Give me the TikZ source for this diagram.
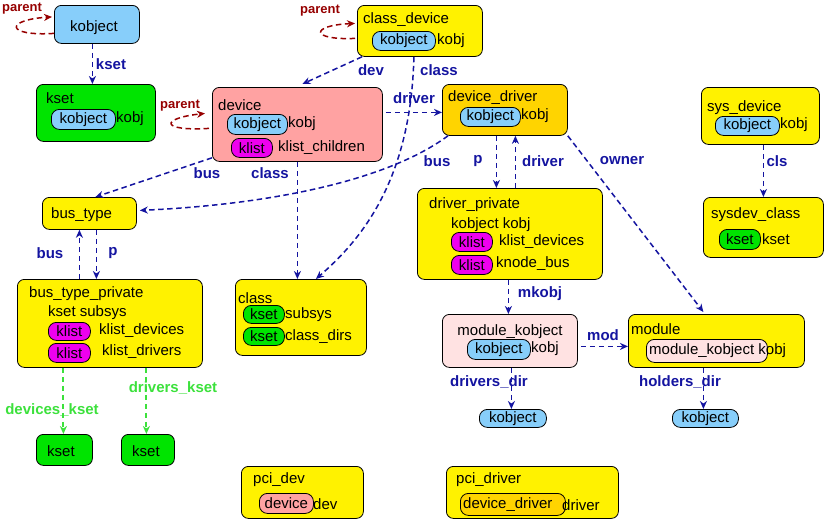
\documentclass[tikz,border=0pt]{standalone}
\usepackage{fontspec}
\setmainfont{Liberation Sans}
\usetikzlibrary{calc,arrows.meta}
\definecolor{objblue}{RGB}{135,206,250}
\definecolor{ksetgreen}{RGB}{0,228,0}
\definecolor{devpink}{RGB}{255,162,162}
\definecolor{drvgold}{RGB}{255,212,0}
\definecolor{modpink}{RGB}{255,226,226}
\definecolor{listmag}{RGB}{238,0,238}
\definecolor{linkblue}{RGB}{20,20,160}
\definecolor{parentred}{RGB}{150,0,0}
\definecolor{ksetlink}{RGB}{60,225,60}

\tikzset{
	box/.style={draw, fill=yellow, rounded corners=7pt, anchor=north west, inner sep=0pt, line width=0.8pt, font=\fontsize{15}{18}\selectfont},
	pill/.style={draw, rounded corners=8pt, anchor=north west, inner sep=0pt, line width=0.8pt, font=\fontsize{15}{18}\selectfont},
	txt/.style={anchor=west, inner sep=0pt, font=\fontsize{15}{18}\selectfont},
	link/.style={draw=linkblue, line width=1.5pt, dash pattern=on 5.5pt off 3.5pt, -{Stealth[length=8pt,width=7pt,inset=2.5pt]}},
	lbl/.style={inner sep=0pt, text=linkblue, font=\bfseries\fontsize{15}{18}\selectfont},
}

\begin{document}
\begin{tikzpicture}[x=1pt, y=-1pt]
		\useasboundingbox (0,0) rectangle (824,520);
		\coordinate (kobjpos)  at (54,   5);
		\coordinate (ksetpos)  at (36,   84);
		\coordinate (devpos)   at (212,  87);
		\coordinate (cdevpos)  at (357,  5);
		\coordinate (ddrvpos)  at (442,  84);
		\coordinate (sdevpos)  at (701,  87);
		\coordinate (sclspos)  at (703,  197);
		\coordinate (buspos)   at (42,   197);
		\coordinate (dprvpos)  at (417,  188);
		\coordinate (bprvpos)  at (17,   279);
		\coordinate (clspos)   at (235,  279);
		\coordinate (mkobpos)  at (442,  314);
		\coordinate (modpos)   at (628,  314);
		\coordinate (pdevpos)  at (241,  466);
		\coordinate (pdrvpos)  at (446,  466);

		% boxes
		\node[box, fill=objblue, minimum width=85pt, minimum height=38pt] (KOB) at (kobjpos) {};
		\node[box, fill=ksetgreen, minimum width=119pt, minimum height=57pt] (KSET) at (ksetpos) {};
		\node[box, fill=devpink, minimum width=170pt, minimum height=74pt] (DEV) at (devpos) {};
		\node[box, minimum width=125pt, minimum height=51pt] (CDEV) at (cdevpos) {};
		\node[box, fill=drvgold, minimum width=125pt, minimum height=51pt] (DDRV) at (ddrvpos) {};
		\node[box, minimum width=118pt, minimum height=57pt] (SDEV) at (sdevpos) {};
		\node[box, minimum width=120pt, minimum height=60pt] (SCLS) at (sclspos) {};
		\node[box, minimum width=94pt, minimum height=32pt] (BUS) at (buspos) {};
		\node[box, minimum width=185pt, minimum height=91pt] (DPRV) at (dprvpos) {};
		\node[box, minimum width=185pt, minimum height=88pt] (BPRV) at (bprvpos) {};
		\node[box, fill=ksetgreen, minimum width=56pt, minimum height=31pt] (KS1) at (36,434) {};
		\node[box, fill=ksetgreen, minimum width=53pt, minimum height=31pt] (KS2) at (121,434) {};
		\node[box, minimum width=131pt, minimum height=76pt] (CLS) at (clspos) {};
		\node[box, fill=modpink, minimum width=135pt, minimum height=53pt] (MKOB) at (mkobpos) {};
		\node[box, minimum width=176pt, minimum height=53pt] (MOD) at (modpos) {};
		\node[box, minimum width=122pt, minimum height=52pt] (PDEV) at (pdevpos) {};
		\node[box, minimum width=172pt, minimum height=52pt] (PDRV) at (pdrvpos) {};
		\node[pill, fill=objblue, minimum width=67pt, minimum height=18pt] (KOB1) at (479,409) {kobject};
		\node[pill, fill=objblue, minimum width=66pt, minimum height=18pt] (KOB2) at (672,409) {kobject};

		% box contents
		\node[txt] (KOBt) at (70,28) {kobject};
		\node[txt] (KS1t) at (47,451) {kset};
		\node[txt] (KS2t) at (132,451) {kset};
		\node[txt] (KSETt) at (46,98) {kset};
		\node[pill, fill=objblue, minimum width=64pt, minimum height=20pt] (KSETk) at (51,109) {kobject};
		\node[txt] (KSETn) at (116,119) {kobj};
		\node[txt] (DEVt) at (218,105) {device};
		\node[pill, fill=objblue, minimum width=60pt, minimum height=20pt] (DEVk) at (227,114) {kobject};
		\node[txt] (DEVn) at (288,124) {kobj};
		\node[pill, fill=listmag, minimum width=41pt, minimum height=19pt] (DEVl) at (231,138) {klist};
		\node[txt] (DEVm) at (278,148) {klist\_children};
		\node[txt] (CDEVt) at (363,20) {class\_device};
		\node[pill, fill=objblue, minimum width=63pt, minimum height=19pt] (CDEVk) at (372,31) {kobject};
		\node[txt] (CDEVn) at (437,41) {kobj};
		\node[txt] (DDRVt) at (448,98) {device\_driver};
		\node[pill, fill=objblue, minimum width=60pt, minimum height=19pt] (DDRVk) at (460,107) {kobject};
		\node[txt] (DDRVn) at (521,116) {kobj};
		\node[txt] (SDEVt) at (707,108) {sys\_device};
		\node[pill, fill=objblue, minimum width=64pt, minimum height=19pt] (SDEVk) at (715,116) {kobject};
		\node[txt] (SDEVn) at (780,125) {kobj};
		\node[txt] (SCLSt) at (711,215) {sysdev\_class};
		\node[pill, fill=ksetgreen, minimum width=41pt, minimum height=20pt] (SCLSk) at (719,229) {kset};
		\node[txt] (SCLSn) at (762,239) {kset};
		\node[txt] (BUSt) at (51,215) {bus\_type};
		\node[txt] (DPRVt) at (429,205) {driver\_private};
		\node[txt] (DPRVk) at (451,225) {kobject kobj};
		\node[pill, fill=listmag, minimum width=41pt, minimum height=19pt] (DPRVl) at (451,232) {klist};
		\node[txt] (DPRVm) at (499,242) {klist\_devices};
		\node[pill, fill=listmag, minimum width=41pt, minimum height=19pt] (DPRVb) at (451,255) {klist};
		\node[txt] (DPRVc) at (496,264) {knode\_bus};
		\node[txt] (BPRVt) at (29,294) {bus\_type\_private};
		\node[txt] (BPRVs) at (48,313) {kset subsys};
		\node[pill, fill=listmag, minimum width=42pt, minimum height=18pt] (BPRVl) at (48,322) {klist};
		\node[txt] (BPRVm) at (99,331) {klist\_devices};
		\node[pill, fill=listmag, minimum width=42pt, minimum height=19pt] (BPRVd) at (48,343) {klist};
		\node[txt] (BPRVe) at (102,352) {klist\_drivers};
		\node[txt] (CLSt) at (238,298) {class};
		\node[pill, fill=ksetgreen, minimum width=41pt, minimum height=18pt] (CLSk) at (243,305) {kset};
		\node[txt] (CLSs) at (285,315) {subsys};
		\node[pill, fill=ksetgreen, minimum width=41pt, minimum height=18pt] (CLSd) at (243,327) {kset};
		\node[txt] (CLSe) at (285,337) {class\_dirs};
		\node[font=\fontsize{15}{18}\selectfont, inner sep=0pt] (MKOBt) at (510,332) {module\_kobject};
		\node[pill, fill=objblue, minimum width=63pt, minimum height=20pt] (MKOBk) at (467,339) {kobject};
		\node[txt] (MKOBn) at (531,349) {kobj};
		\node[txt] (MODt) at (631,329) {module};
		\node[pill, fill=modpink, minimum width=121pt, minimum height=23pt] (MODk) at (646,339) {};
		\node[txt] (MODn) at (649,351) {module\_kobject kobj};
		\node[txt] (PDEVt) at (253,480) {pci\_dev};
		\node[pill, fill=devpink, minimum width=54pt, minimum height=20pt] (PDEVk) at (259,493) {device};
		\node[txt] (PDEVn) at (313,504) {dev};
		\node[txt] (PDRVt) at (456,480) {pci\_driver};
		\node[pill, fill=drvgold, minimum width=105pt, minimum height=22pt] (PDRVk) at (460,493) {};
		\node[txt] (PDRVd) at (463,505) {device\_driver};
		\node[txt] (PDRVn) at (562,505) {driver};

		% labels
		\node[lbl, text=parentred, font=\bfseries\fontsize{13}{15}\selectfont] (LP1) at (22,9) {parent};
		\node[lbl, text=parentred, font=\bfseries\fontsize{13}{15}\selectfont] (LP2) at (180,106) {parent};
		\node[lbl, text=parentred, font=\bfseries\fontsize{13}{15}\selectfont] (LP3) at (320,11) {parent};
		\node[lbl] (LKSET) at (111,64) {kset};
		\node[lbl] (LDEV) at (371,70) {dev};
		\node[lbl] (LCLS1) at (439,70) {class};
		\node[lbl] (LDRV1) at (414,98) {driver};
		\node[lbl] (LBUS1) at (437,161) {bus};
		\node[lbl] (LBUS2) at (207,173) {bus};
		\node[lbl] (LCLS2) at (270,173) {class};
		\node[lbl] (LBUS3) at (50,253) {bus};
		\node[lbl] (LP4) at (113,253) {p};
		\node[lbl, text=ksetlink] (LDKS) at (52,410) {devices\_kset};
		\node[lbl, text=ksetlink] (LRKS) at (173,388) {drivers\_kset};
		\node[lbl] (LP5) at (478,161) {p};
		\node[lbl] (LDRV2) at (543,161) {driver};
		\node[lbl] (LOWN) at (622,161) {owner};
		\node[lbl] (LCLS3) at (777,161) {cls};
		\node[lbl] (LMK) at (540,294) {mkobj};
		\node[lbl] (LMOD) at (603,335) {mod};
		\node[lbl] (LDDIR) at (489,382) {drivers\_dir};
		\node[lbl] (LHDIR) at (680,382) {holders\_dir};

		% connectors
		\draw[link, draw=parentred] ($(KOB.west)+(0,9)$) .. controls +(-49,3) and +(-47,3) .. ($(KOB.west)+(-2,-7.5)$);
		\draw[link, draw=parentred] ($(DEV.west)+(-3,4)$) .. controls +(-49,3) and +(-45,5) .. ($(DEV.west)+(-7,-11)$);
		\draw[link, draw=parentred] ($(CDEV.west)+(-2,7.5)$) .. controls +(-45,2) and +(-45,2) .. ($(CDEV.west)+(-2,-7.5)$);
		\draw[link] ($(KOB.south)+(-4.5,0)$) -- ($(KSET.north)+(-3.5,0)$);
		\draw[link] ($(CDEV.south west)+(5,0)$) -- ($(DEV.north)+(5,-3)$);
		\draw[link] ($(CDEV.south)+(-6,0)$) .. controls +(-3,124) and +(45,-39) .. ($(CLS.north)+(15,0)$);
		\draw[link] ($(DEV.east)+(3,-12)$) -- ($(DDRV.west)+(0,2.5)$);
		\draw[link] ($(DDRV.south west)+(6,0)$) .. controls +(-68,50) and +(111,-5) .. ($(BUS.east)+(3,-3)$);
		\draw[link] ($(DEV.south west)+(0,-4)$) -- ($(BUS.north)+(6,0)$);
		\draw[link] (DEV.south) -- ($(CLS.north)+(-3.5,0)$);
		\draw[link] ($(BPRV.north)+(-30.5,0)$) -- ($(BUS.south)+(-10,0)$);
		\draw[link] ($(BUS.south)+(7,0)$) -- ($(BPRV.north)+(-13.5,0)$);
		\draw[link, draw=ksetlink, line width=2pt] ($(BPRV.south)+(-46.5,0)$) -- ($(KS1.north)+(-1,0)$);
		\draw[link, draw=ksetlink, line width=2pt] ($(BPRV.south)+(36.5,0)$) -- ($(KS2.north)+(-1.5,0)$);
		\draw[link] ($(DDRV.south)+(-8.5,0)$) -- ($(DPRV.north)+(-13.5,0)$);
		\draw[link] ($(DPRV.north)+(5.5,0)$) -- ($(DDRV.south)+(10.5,0)$);
		\draw[link] (DDRV.south east) -- ($(MOD.north)+(-13,-2)$);
		\draw[link] ($(SDEV.south)+(3,0)$) -- (SCLS.north);
		\draw[link] ($(DPRV.south)+(-1.5,0)$) -- ($(MKOB.north)+(-1.5,0)$);
		\draw[link] ($(MKOB.east)+(3,5.5)$) -- ($(MOD.west)+(0,5.5)$);
		\draw[link] ($(MKOB.south)+(1.5,0)$) -- ($(KOB1.north)+(-1.5,0)$);
		\draw[link] ($(MOD.south)+(-13,0)$) -- ($(KOB2.north)+(-2,0)$);

	\end{tikzpicture}
\end{document}
